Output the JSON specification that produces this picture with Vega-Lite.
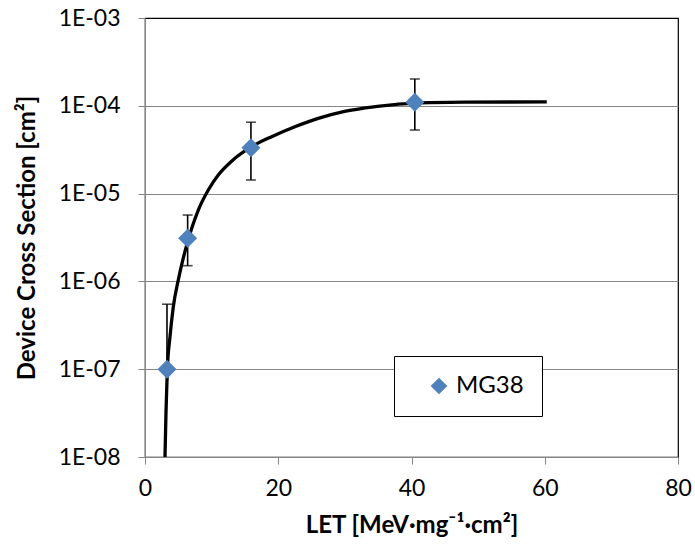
{
  "$schema": "https://vega.github.io/schema/vega-lite/v6.json",
  "width": 533,
  "height": 439,
  "autosize": "none",
  "padding": {"left": 145, "top": 18, "right": 17, "bottom": 92},
  "background": "white",
  "config": {
    "font": "Lato",
    "view": {"stroke": "black", "strokeWidth": 1.2},
    "axis": {
      "domainColor": "#868686",
      "tickColor": "#868686",
      "labelColor": "black",
      "titleColor": "black",
      "labelFontSize": 23,
      "titleFontSize": 24,
      "titleFontWeight": "bold",
      "labelFont": "Lato",
      "titleFont": "Lato",
      "labelFlush": false
    }
  },
  "datasets": {
    "curve": [
      {"let": 3.0, "cs": 1e-8},
      {"let": 3.15, "cs": 3.2e-8},
      {"let": 3.35, "cs": 9.8e-8},
      {"let": 3.75, "cs": 2.34e-7},
      {"let": 4.25, "cs": 5.15e-7},
      {"let": 5.0, "cs": 1.04e-6},
      {"let": 5.75, "cs": 1.85e-6},
      {"let": 7.0, "cs": 4.0e-6},
      {"let": 8.0, "cs": 6.5e-6},
      {"let": 9.5, "cs": 1.1e-5},
      {"let": 11.0, "cs": 1.63e-5},
      {"let": 13.0, "cs": 2.34e-5},
      {"let": 16.0, "cs": 3.42e-5},
      {"let": 19.0, "cs": 4.45e-5},
      {"let": 22.5, "cs": 5.78e-5},
      {"let": 26.0, "cs": 7.2e-5},
      {"let": 29.8, "cs": 8.6e-5},
      {"let": 32.8, "cs": 9.4e-5},
      {"let": 37.8, "cs": 1.04e-4},
      {"let": 40.5, "cs": 1.075e-4},
      {"let": 48.0, "cs": 1.1e-4},
      {"let": 60.3, "cs": 1.11e-4}
    ],
    "points": [
      {"let": 3.3, "cs": 1e-7, "hi": 5.5e-7, "lo": 1e-7, "series": "MG38"},
      {"let": 6.4, "cs": 3.1e-6, "hi": 5.7e-6, "lo": 1.51e-6, "series": "MG38"},
      {"let": 15.9, "cs": 3.33e-5, "hi": 6.5e-5, "lo": 1.43e-5, "series": "MG38"},
      {"let": 40.5, "cs": 1.1e-4, "hi": 2.02e-4, "lo": 5.3e-5, "series": "MG38"}
    ],
    "caps": [
      {"let": 3.3, "v": 5.5e-7},
      {"let": 6.4, "v": 5.7e-6},
      {"let": 6.4, "v": 1.51e-6},
      {"let": 15.9, "v": 6.5e-5},
      {"let": 15.9, "v": 1.43e-5},
      {"let": 40.5, "v": 2.02e-4},
      {"let": 40.5, "v": 5.3e-5}
    ]
  },
  "layer": [
    {
      "data": {"name": "curve"},
      "mark": {"type": "line", "color": "black", "strokeWidth": 3.3, "interpolate": "monotone"},
      "encoding": {
        "x": {
          "field": "let", "type": "quantitative", "title": "LET [MeV·mg⁻¹·cm²]",
          "scale": {"domain": [0, 80], "nice": false, "zero": false},
          "axis": {"values": [0, 20, 40, 60, 80], "grid": false, "tickSize": 7, "labelPadding": 13, "titlePadding": 13}
        },
        "y": {
          "field": "cs", "type": "quantitative", "title": "Device Cross Section [cm²]",
          "scale": {"type": "log", "domain": [1e-8, 1e-3], "nice": false},
          "axis": {
            "values": [1e-8, 1e-7, 1e-6, 1e-5, 1e-4, 1e-3],
            "grid": true,
            "gridColor": {"condition": {"test": "datum.value > 0.0009", "value": "black"}, "value": "#868686"},
            "gridWidth": 1.2,
            "tickSize": 7,
            "labelPadding": 18,
            "titlePadding": 19,
            "labelExpr": "'1E-0' + toString(round(-log(datum.value) / LN10))"
          }
        }
      }
    },
    {
      "data": {"name": "points"},
      "mark": {"type": "rule", "color": "black", "strokeWidth": 1.6},
      "encoding": {
        "x": {"field": "let", "type": "quantitative", "title": "LET [MeV·mg⁻¹·cm²]"},
        "y": {"field": "hi", "type": "quantitative", "title": "Device Cross Section [cm²]"},
        "y2": {"field": "lo"}
      }
    },
    {
      "data": {"name": "caps"},
      "mark": {"type": "tick", "orient": "horizontal", "color": "black", "size": 10, "thickness": 1.6},
      "encoding": {
        "x": {"field": "let", "type": "quantitative", "title": "LET [MeV·mg⁻¹·cm²]"},
        "y": {"field": "v", "type": "quantitative", "title": "Device Cross Section [cm²]"}
      }
    },
    {
      "data": {"name": "points"},
      "mark": {"type": "point", "shape": "diamond", "filled": true, "size": 360, "opacity": 1},
      "encoding": {
        "x": {"field": "let", "type": "quantitative", "title": "LET [MeV·mg⁻¹·cm²]"},
        "y": {"field": "cs", "type": "quantitative", "title": "Device Cross Section [cm²]"},
        "color": {
          "field": "series", "type": "nominal",
          "scale": {"range": ["#4F81BD"]},
          "legend": {
            "orient": "none", "legendX": 249, "legendY": 338, "title": null,
            "strokeColor": "black", "fillColor": "white", "padding": 18,
            "symbolType": "diamond", "symbolSize": 280, "symbolOffset": 15,
            "symbolStrokeWidth": 0, "symbolOpacity": 1,
            "labelFontSize": 24, "labelOffset": 5, "labelFont": "Lato", "labelColor": "black",
            "labelExpr": "datum.label + ' '"
          }
        }
      }
    }
  ]
}
